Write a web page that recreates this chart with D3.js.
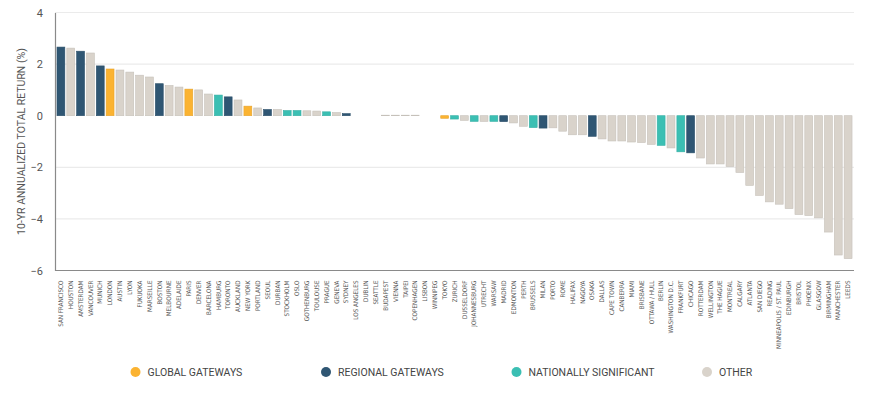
<!DOCTYPE html>
<html>
<head>
<meta charset="utf-8">
<script src="https://cdn.jsdelivr.net/npm/d3@7"></script>
<style>
  body { margin: 0; background: #fff; }
  svg { display: block; }
</style>
</head>
<body>
<div id="chart"></div>
<script>
// city names, left to right
var cities = ['SAN FRANCISCO', 'HOUSTON', 'AMSTERDAM', 'VANCOUVER', 'MUNICH', 'LONDON', 'AUSTIN', 'LYON',
  'FUKUOKA', 'MARSEILLE', 'BOSTON', 'MELBOURNE', 'ADELAIDE', 'PARIS', 'DENVER', 'BARCELONA', 'HAMBURG',
  'TORONTO', 'AUCKLAND', 'NEW YORK', 'PORTLAND', 'SEOUL', 'DURBAN', 'STOCKHOLM', 'OSLO', 'GOTHENBURG',
  'TOULOUSE', 'PRAGUE', 'GENEVA', 'SYDNEY', 'LOS ANGELES', 'DUBLIN', 'SEATTLE', 'BUDAPEST', 'VIENNA',
  'TAIPEI', 'COPENHAGEN', 'LISBON', 'WINNIPEG', 'TOKYO', 'ZURICH', 'DUSSELDORF', 'JOHANNESBURG', 'UTRECHT',
  'WARSAW', 'MADRID', 'EDMONTON', 'PERTH', 'BRUSSELS', 'MILAN', 'PORTO', 'ROME', 'HALIFAX', 'NAGOYA',
  'OSAKA', 'DALLAS', 'CAPE TOWN', 'CANBERRA', 'MIAMI', 'BRISBANE', 'OTTAWA / HULL', 'BERLIN',
  'WASHINGTON D.C.', 'FRANKFURT', 'CHICAGO', 'ROTTERDAM', 'WELLINGTON', 'THE HAGUE', 'MONTREAL',
  'CALGARY', 'ATLANTA', 'SAN DIEGO', 'READING', 'MINNEAPOLIS / ST. PAUL', 'EDINBURGH', 'BRISTOL',
  'PHOENIX', 'GLASGOW', 'BIRMINGHAM', 'MANCHESTER', 'LEEDS'];

// 10-yr annualized total return (%)
var returns = [2.66, 2.62, 2.50, 2.43, 1.93, 1.81, 1.77, 1.69,
  1.57, 1.50, 1.24, 1.17, 1.11, 1.03, 1.00, 0.84, 0.80,
  0.73, 0.61, 0.37, 0.30, 0.24, 0.24, 0.20, 0.20, 0.19,
  0.18, 0.15, 0.12, 0.08, 0, 0, 0, 0.02, 0.02,
  0.02, 0.02, 0, 0, -0.10, -0.13, -0.18, -0.22, -0.22,
  -0.22, -0.23, -0.28, -0.41, -0.46, -0.48, -0.47, -0.60, -0.74, -0.74,
  -0.80, -0.90, -0.98, -0.98, -1.02, -1.04, -1.11, -1.15,
  -1.25, -1.40, -1.44, -1.64, -1.87, -1.87, -1.97,
  -2.20, -2.70, -3.09, -3.34, -3.43, -3.60, -3.83,
  -3.87, -3.96, -4.51, -5.40, -5.54];

// g = global gateway, r = regional gateway, n = nationally significant, o = other
var groups = ['r', 'o', 'r', 'o', 'r', 'g', 'o', 'o',
  'o', 'o', 'r', 'o', 'o', 'g', 'o', 'o', 'n',
  'r', 'o', 'g', 'o', 'r', 'o', 'n', 'n', 'o',
  'o', 'n', 'o', 'r', 'o', 'o', 'o', 'o', 'o',
  'o', 'o', 'o', 'o', 'g', 'n', 'o', 'n', 'o',
  'n', 'r', 'o', 'o', 'n', 'r', 'o', 'o', 'o', 'o',
  'r', 'o', 'o', 'o', 'o', 'o', 'o', 'n',
  'o', 'n', 'r', 'o', 'o', 'o', 'o',
  'o', 'o', 'o', 'o', 'o', 'o', 'o',
  'o', 'o', 'o', 'o', 'o'];

var legendKeys = ['g', 'r', 'n', 'o'];
var legendLabels = ['GLOBAL GATEWAYS', 'REGIONAL GATEWAYS', 'NATIONALLY SIGNIFICANT', 'OTHER'];
var yTicks = [-6, -4, -2, 0, 2, 4];

var colors = { g: '#fbb331', r: '#2f5673', n: '#3bbfb3', o: '#d9d3cb' };

var width = 870, height = 393;
var plot = { left: 55, right: 854, top: 12.5, bottom: 270.5 };
var font = '"DejaVu Sans Condensed", "Roboto", sans-serif';

var svg = d3.select('#chart').append('svg')
  .attr('width', width)
  .attr('height', height);

var x = d3.scaleBand()
  .domain(cities)
  .range([plot.left, plot.right])
  .paddingInner(0.2)
  .paddingOuter(0.2);

var y = d3.scaleLinear()
  .domain([-6, 4])
  .range([plot.bottom, plot.top]);

// light gridlines, behind the bars
svg.append('g').selectAll('line')
  .data(yTicks.filter(function(t) { return t !== 0 && t !== -6; }))
  .enter().append('line')
  .attr('x1', plot.left)
  .attr('x2', plot.right)
  .attr('y1', function(d) { return y(d); })
  .attr('y2', function(d) { return y(d); })
  .attr('stroke', '#ebebeb')
  .attr('stroke-width', 1.2);

var data = cities.map(function(c, i) {
  return { city: c, value: returns[i], group: groups[i] };
});

svg.append('g').selectAll('rect')
  .data(data.filter(function(d) { return d.value !== 0; }))
  .enter().append('rect')
  .attr('x', function(d) { return x(d.city); })
  .attr('width', x.bandwidth())
  .attr('y', function(d) { return y(Math.max(0, d.value)); })
  .attr('height', function(d) { return Math.abs(y(d.value) - y(0)); })
  .attr('fill', function(d) { return colors[d.group]; })
  .attr('stroke', function(d) { return d3.color(colors[d.group]).darker(0.25); })
  .attr('stroke-width', 0.6);

// y axis, no ticks, just numbers and the frame line
var yAxis = svg.append('g')
  .attr('transform', 'translate(' + plot.left + ',0)')
  .call(d3.axisLeft(y).tickValues(yTicks).tickSize(0).tickPadding(12).tickFormat(d3.format('d')));
yAxis.select('.domain').attr('stroke', '#8a8a8a').attr('stroke-width', 1.2);
yAxis.selectAll('text')
  .attr('fill', '#555')
  .style('font-family', '"Roboto", sans-serif')
  .style('font-size', '11px');

// bottom frame line
svg.append('line')
  .attr('x1', plot.left).attr('x2', plot.right)
  .attr('y1', plot.bottom).attr('y2', plot.bottom)
  .attr('stroke', '#8a8a8a')
  .attr('stroke-width', 1.2);

// city labels, rotated
svg.append('g').selectAll('text')
  .data(cities)
  .enter().append('text')
  .attr('transform', function(d) {
    return 'translate(' + (x(d) + x.bandwidth() / 2) + ',' + (plot.bottom + 10) + ') rotate(-90)';
  })
  .attr('text-anchor', 'end')
  .attr('dy', '0.35em')
  .attr('fill', '#555')
  .style('font-family', font)
  .style('font-size', '6.3px')
  .text(function(d) { return d; });

svg.append('text')
  .attr('transform', 'translate(21,' + ((plot.top + plot.bottom) / 2) + ') rotate(-90)')
  .attr('text-anchor', 'middle')
  .attr('dy', '0.35em')
  .attr('fill', '#555')
  .style('font-family', '"Roboto", sans-serif')
  .style('font-size', '10.5px')
  .text('10-YR ANNUALIZED TOTAL RETURN (%)');

// legend
var legend = svg.append('g').selectAll('g')
  .data(legendKeys)
  .enter().append('g')
  .attr('transform', function(d, i) { return 'translate(' + (135.5 + i * 190.5) + ',372)'; });

legend.append('circle')
  .attr('r', 5)
  .attr('fill', function(d) { return colors[d]; });

legend.append('text')
  .attr('x', 12)
  .attr('dy', '0.35em')
  .attr('fill', '#444')
  .style('font-family', '"Roboto", sans-serif')
  .style('font-size', '10.5px')
  .text(function(d, i) { return legendLabels[i]; });
</script>
</body>
</html>
